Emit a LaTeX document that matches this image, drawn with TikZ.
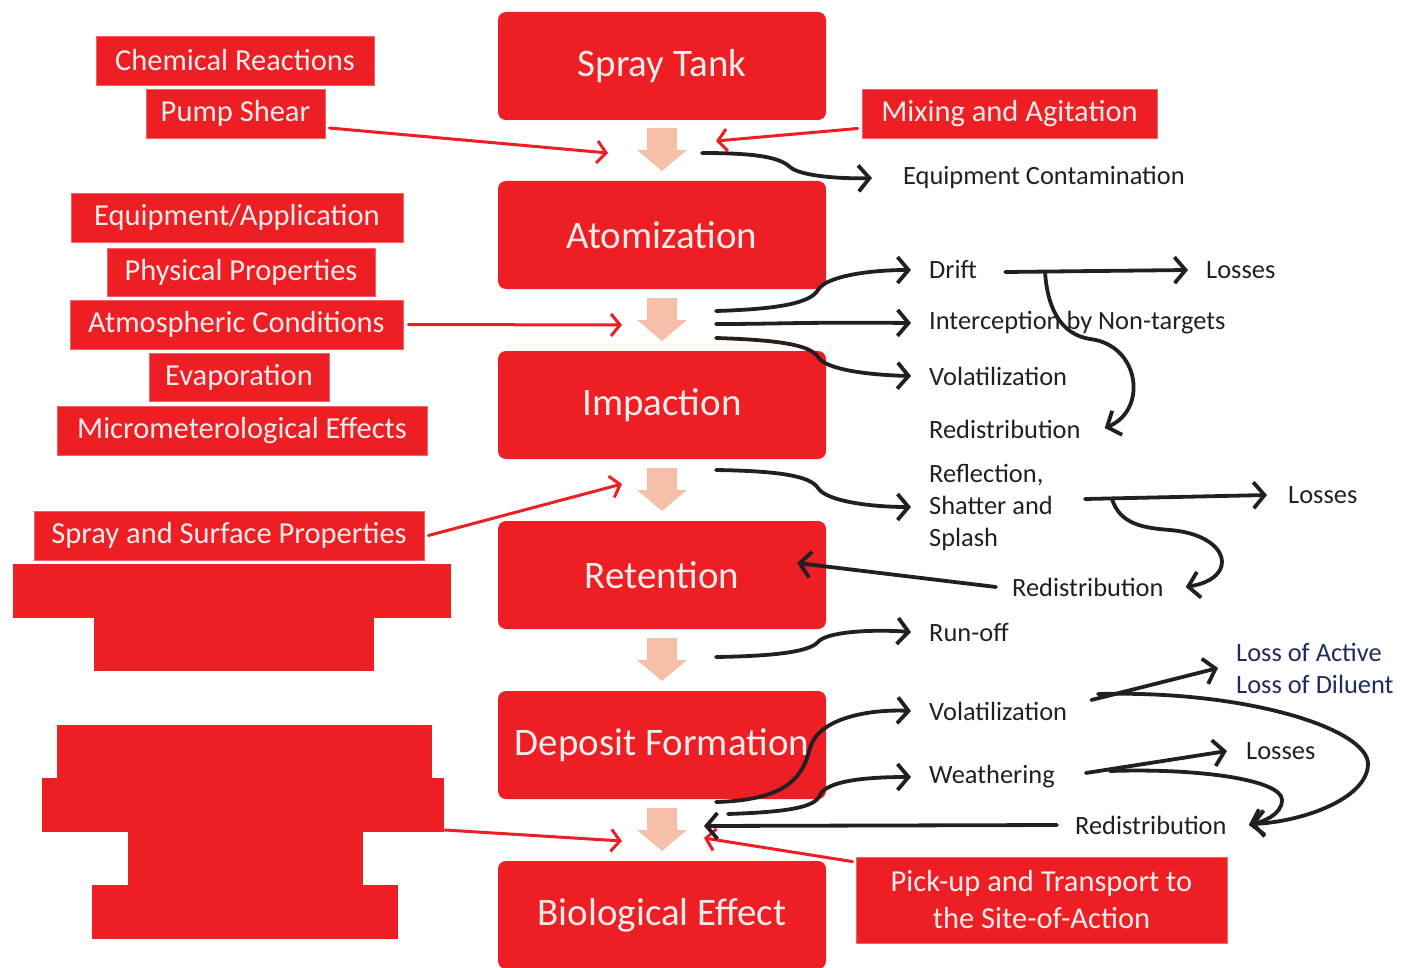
\documentclass[tikz,border=0pt]{standalone}
\usepackage{fontspec}
\setmainfont{Carlito}
\usetikzlibrary{arrows.meta,calc}
\definecolor{myred}{HTML}{ED1F24}
\definecolor{boxtext}{HTML}{F3ECEA}
\definecolor{ink}{HTML}{231F20}
\definecolor{navy}{HTML}{1F2B5E}
\definecolor{peach}{HTML}{F5BFAA}
\tikzset{
  mainbox/.style={rectangle, rounded corners=8pt, fill=myred, text=boxtext, minimum width=328pt, minimum height=108pt, inner sep=0pt, font=\fontsize{39}{46}\selectfont},
  factor/.style={rectangle, fill=myred, draw=myred!70!white, line width=0.8pt, text=boxtext, inner sep=0pt, minimum height=49pt, font=\fontsize{30.5}{36}\selectfont},
  lbl/.style={anchor=west, inner sep=0pt, text=ink, font=\fontsize{26.4}{32}\selectfont},
  blk/.style={draw=ink, line width=3.8pt, line cap=round, -{Straight Barb[length=11pt,width=26pt]}},
  redarr/.style={draw=myred, line width=3pt, line cap=round, -{Straight Barb[length=9pt,width=22pt]}},
  peacharrow/.style={fill=peach}
}
\begin{document}
\begin{tikzpicture}[x=1pt,y=-1pt]
\useasboundingbox (0,0) rectangle (1402,968);

% main boxes
\node[mainbox] (tank) at (662,66) {Spray Tank};
\node[mainbox] (atom) at (662,235) {Atomization};
\node[mainbox] (imp) at (662,405) {Impaction};
\node[mainbox] (ret) at (662,575) {Retention};
\node[mainbox] (dep) at (662,745) {Deposit Formation};
\node[mainbox] (bio) at (662,915) {Biological Effect};

% peach down arrows
\foreach \y in {128,298,468,638,808}
  \fill[peacharrow] (647,\y) -- (677,\y) -- (677,\y+22) -- (687,\y+22) -- (662,\y+43) -- (637,\y+22) -- (647,\y+22) -- cycle;

% factor boxes
\node[factor, minimum width=278pt] (chem) at (235,60.5) {Chemical Reactions};
\node[factor, minimum width=179pt] (pump) at (235.5,113.5) {Pump Shear};
\node[factor, minimum width=295pt] (mix) at (1009.5,113.5) {Mixing and Agitation};
\node[factor, minimum width=332pt] (equip) at (237,217.5) {Equipment/Application};
\node[factor, minimum width=268pt, minimum height=48pt] (phys) at (241,272) {Physical Properties};
\node[factor, minimum width=333pt] (atm) at (236.5,324.5) {Atmospheric Conditions};
\node[factor, minimum width=180pt, minimum height=48pt] (evap) at (239,377) {Evaporation};
\node[factor, minimum width=370pt] (micro) at (242,430.5) {Micrometerological Effects};
\node[factor, minimum width=390pt] (surf) at (229,535.5) {Spray and Surface Properties};
\node[factor, minimum width=371pt, minimum height=86pt, align=center, font=\fontsize{30.5}{37}\selectfont] (pick) at (1041.5,900) {Pick-up and Transport to\\the Site-of-Action};

% redacted blocks
\fill[myred] (13,564) rectangle (451,618);
\fill[myred] (94,617) rectangle (374,671);
\fill[myred] (57,725) rectangle (432,779);
\fill[myred] (42,778) rectangle (444,832);
\fill[myred] (128,831) rectangle (363,886);
\fill[myred] (92,885) rectangle (398,939);
\coordinate (redact) at (445,830);

% labels
\node[lbl] (eqc) at (903,178) {Equipment Contamination};
\node[lbl] (drift) at (929,270) {Drift};
\node[lbl] (inter) at (929,323) {Interception by Non-targets};
\node[lbl] (vol1) at (929,376) {Volatilization};
\node[lbl] (red1) at (929,429) {Redistribution};
\node[lbl] (loss1) at (1206,270) {Losses};
\node[lbl, align=left] (refl) at (929,507) {Reflection,\\Shatter and\\Splash};
\node[lbl] (loss2) at (1288,495) {Losses};
\node[lbl] (red2) at (1012,587) {Redistribution};
\node[lbl] (run) at (929,632) {Run-off};
\node[lbl] (vol2) at (929,711) {Volatilization};
\node[lbl] (weath) at (929,777) {Weathering};
\node[lbl, align=left, text=navy] (lact) at (1236,668) {Loss of Active\\Loss of Diluent};
\node[lbl] (loss3) at (1246,751) {Losses};
\node[lbl] (red3) at (1075,825) {Redistribution};

% free coordinates near the flow arrows
\coordinate (s0) at (702,153);
\coordinate (s1) at (716,311);
\coordinate (s2) at (716,324);
\coordinate (s3) at (716,338);
\coordinate (s4) at (716,470);
\coordinate (s5) at (716,657);
\coordinate (s6) at (716,802);
\coordinate (s7) at (728,814);
\coordinate (t1) at (608,153);
\coordinate (t2) at (716,141);
\coordinate (t3) at (622,325);
\coordinate (t4) at (622,484);
\coordinate (t5) at (622,841);
\coordinate (t6) at (704,838);
\coordinate (t7) at (704,826);

% red arrows
\draw[redarr] ([xshift=4pt,yshift=-14.5pt]pump.east) -- (t1);
\draw[redarr] ([xshift=-4pt,yshift=-15pt]mix.west) -- (t2);
\draw[redarr] ([xshift=5pt]atm.east) -- (t3);
\draw[redarr] ([xshift=4pt]surf.east) -- (t4);
\draw[redarr] (redact) -- (t5);
\draw[redarr] ([xshift=-3pt,yshift=-5pt]pick.north west) -- (t6);

% black arrows
\draw[blk] (s0) .. controls (760,153) and (780,158) .. (790,167) .. controls (800,176) and (840,179) .. ([xshift=-31pt]eqc.west);
\draw[blk] (s1) .. controls (780,309) and (810,303) .. (818,290) .. controls (826,276) and (870,270) .. ([xshift=-18pt]drift.west);
\draw[blk] (s2) .. controls (780,324) and (800,322) .. ([xshift=-18pt]inter.west);
\draw[blk] (s3) .. controls (780,340) and (810,345) .. (818,357) .. controls (826,370) and (870,375) .. ([xshift=-18pt]vol1.west);
\draw[blk] ([xshift=28pt,yshift=-2pt]drift.east) -- ([xshift=-18pt]loss1.west);
\draw[blk] (1045,272) .. controls (1048,315) and (1065,335) .. (1090,339) .. controls (1140,345) and (1148,410) .. ([xshift=24pt,yshift=1pt]red1.east);
\draw[blk] (s4) .. controls (780,471) and (810,476) .. (818,488) .. controls (826,501) and (870,507) .. ([xshift=-18pt]refl.west);
\draw[blk] ([xshift=32pt,yshift=8pt]refl.east) -- ([xshift=-21pt]loss2.west);
\draw[blk] (1112,499) .. controls (1120,525) and (1145,528) .. (1170,530) .. controls (1230,535) and (1240,578) .. ([xshift=22pt]red2.east);
\draw[blk] ([xshift=-16pt]red2.west) -- ([xshift=-29pt,yshift=12pt]ret.east);
\draw[blk] (s5) .. controls (780,656) and (810,651) .. (818,642) .. controls (826,632) and (870,629) .. ([xshift=-18pt]run.west);
\draw[blk] (s6) .. controls (790,800) and (803,775) .. (810,748) .. controls (818,718) and (870,709) .. ([xshift=-18pt]vol2.west);
\draw[blk] (s7) .. controls (785,812) and (815,808) .. (820,795) .. controls (827,780) and (870,777) .. ([xshift=-18pt]weath.west);
\draw[blk] ([xshift=24pt,yshift=11pt]vol2.east) -- ([xshift=-18pt]lact.west);
\draw[blk] (1098,694) .. controls (1250,690) and (1370,730) .. (1368,765) .. controls (1366,800) and (1300,822) .. ([xshift=24pt,yshift=1pt]red3.east);
\draw[blk] ([xshift=31pt,yshift=4pt]weath.east) -- ([xshift=-19pt]loss3.west);
\draw[blk] (1110,771) .. controls (1200,768) and (1282,780) .. (1282,800) .. controls (1282,815) and (1262,822) .. ([xshift=22pt]red3.east);
\draw[blk] ([xshift=-18pt]red3.west) -- (t7);
\end{tikzpicture}
\end{document}
